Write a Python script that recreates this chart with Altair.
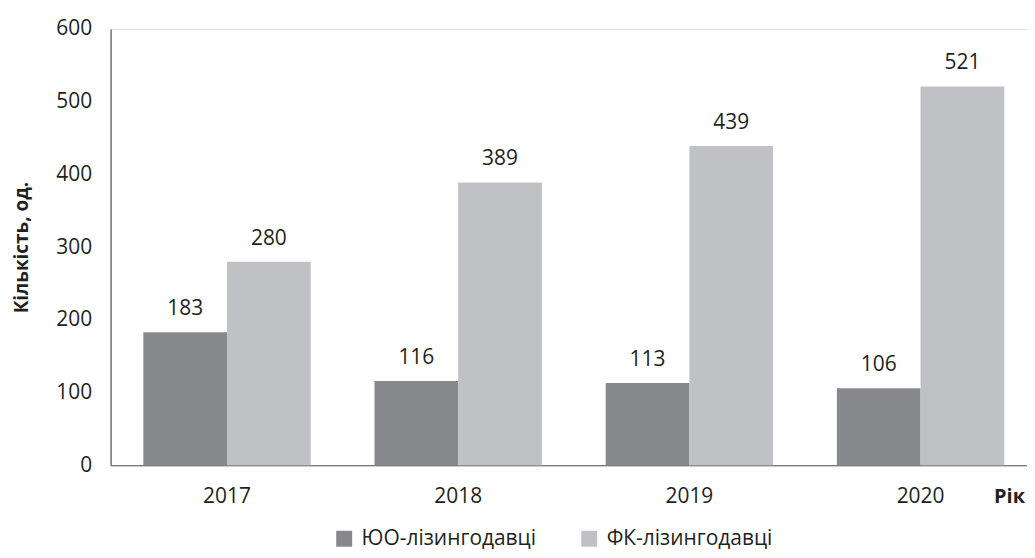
import altair as alt
import pandas as pd

years = ["2017", "2018", "2019", "2020"]
series = ["ЮО-лізингодавці", "ФК-лізингодавці"]
yo_values = [183, 116, 113, 106]
fk_values = [280, 389, 439, 521]
colors = ["#87888c", "#c0c1c4"]

rows = []
for i, y in enumerate(years):
    rows.append({"year": y, "series": series[0], "value": yo_values[i]})
    rows.append({"year": y, "series": series[1], "value": fk_values[i]})
df = pd.DataFrame(rows)

FONT = "Open Sans"
TXT = "#231f20"

base = alt.Chart(df).encode(
    x=alt.X(
        "year:N",
        sort=years,
        scale=alt.Scale(paddingInner=0.276, paddingOuter=0.12, align=0.59),
        axis=alt.Axis(
            title="Рік",
            titleFont=FONT,
            titleFontSize=20,
            titleFontWeight="bold",
            titleColor=TXT,
            titleX=902,
            titleY=31,
            titleAlign="center",
            titleBaseline="middle",
            titleAngle=0,
            labelAngle=0,
            labelFont=FONT,
            labelFontSize=21,
            labelColor=TXT,
            labelPadding=20,
            ticks=False,
            tickSize=0,
            domainColor="#58595b",
            domainWidth=1.2,
        ),
    ),
    xOffset=alt.XOffset(
        "series:N",
        sort=series,
        scale=alt.Scale(domain=series, paddingInner=0, paddingOuter=0),
    ),
    y=alt.Y(
        "value:Q",
        scale=alt.Scale(domain=[0, 600], nice=False),
        axis=alt.Axis(
            title="Кількість, од.",
            titleFont=FONT,
            titleFontSize=19,
            titleFontWeight="bold",
            titleColor=TXT,
            titlePadding=24,
            values=[0, 100, 200, 300, 400, 500, 600],
            labelFont=FONT,
            labelFontSize=21,
            labelColor=TXT,
            labelPadding=19,
            ticks=False,
            tickSize=0,
            grid=False,
            domainColor="#58595b",
            domainWidth=1.2,
        ),
    ),
)

bars = base.mark_bar().encode(
    color=alt.Color(
        "series:N",
        sort=series,
        scale=alt.Scale(domain=series, range=colors),
        legend=alt.Legend(
            title=None,
            orient="none",
            legendX=224,
            legendY=501,
            direction="horizontal",
            symbolType="square",
            symbolSize=256,
            symbolStrokeWidth=0,
            symbolOpacity=1,
            labelFont=FONT,
            labelFontSize=21,
            labelColor=TXT,
            labelOffset=7,
            labelLimit=0,
            columnPadding=42,
        ),
    )
)

labels = base.mark_text(
    baseline="bottom", dy=-13, font=FONT, fontSize=21, color=TXT
).encode(text="value:Q")

chart = (
    alt.layer(bars, labels)
    .properties(
        width=920,
        height=438,
        autosize=alt.AutoSizeParams(type="none"),
        padding={"left": 103, "top": 20, "right": 0, "bottom": 84},
    )
    .configure_view(stroke=None)
    .configure(background="white")
)

chart.save("out.html", embed_options={"renderer": "svg", "actions": False})
